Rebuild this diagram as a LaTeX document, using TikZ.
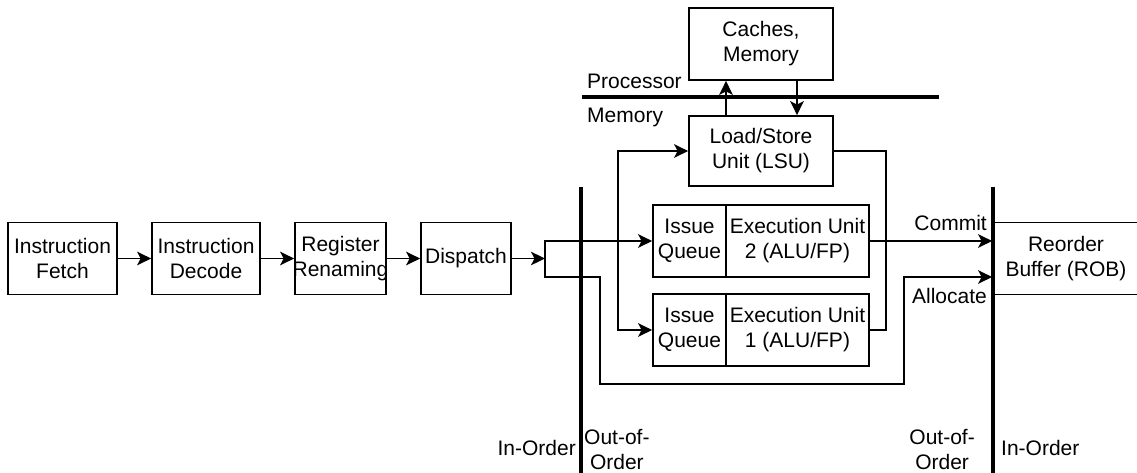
\documentclass[tikz,border=0pt]{standalone}
\usepackage{fontspec}
\setmainfont{Liberation Sans}
\usetikzlibrary{arrows.meta}
\tikzset{box/.style={draw, line width=1.7pt, inner sep=0pt, align=center, minimum height=72pt},
  arr/.style={->, line width=1.7pt},
  bar/.style={line width=3.5pt},
  lbl/.style={inner sep=0pt, align=center}}

\begin{document}
\begin{tikzpicture}[x=1pt, y=-1pt, font=\fontsize{21}{25}\selectfont, line join=miter,
    >={Stealth[length=14pt,width=13.5pt,inset=3.5pt]}]
    \useasboundingbox (0,0) rectangle (1137,472);
    \node [box, minimum width=109pt] (fetch) at (62.5,258.5) {Instruction\\Fetch};
    \node [box, minimum width=108pt] (decode) at (206,258.5) {Instruction\\Decode};
    \node [box, minimum width=91pt] (rename) at (340.5,258.5) {};
    \node [lbl] at (rename) {Register\\Renaming};
    \node [box, minimum width=90pt] (dispatch) at (466,258.5) {Dispatch};
    \node [box, minimum width=144pt] (mem) at (761,44) {Caches,\\Memory};
    \node [box, minimum width=144pt, minimum height=70pt] (lsu) at (761,151) {Load/Store\\Unit (LSU)};
    \node [box, minimum width=73pt] (iq2) at (689.5,241) {Issue\\Queue};
    \node [box, minimum width=143pt] (eu2) at (797.5,241) {Execution Unit\\2 (ALU/FP)};
    \node [box, minimum width=73pt] (iq1) at (689.5,330) {Issue\\Queue};
    \node [box, minimum width=143pt] (eu1) at (797.5,330) {Execution Unit\\1 (ALU/FP)};
    \node [box, minimum width=146pt] (rob) at (1066,258.5) {Reorder\\Buffer (ROB)};

    \draw [bar] (582,97) -- (939,97);
    \node [lbl, anchor=west] (proc) at (587,81) {Processor};
    \node [lbl, anchor=west] (memlbl) at (587,117) {Memory};
    \draw [bar] (581,187) -- (581,475);
    \draw [bar] (993,187) -- (993,475);
    \node [lbl, anchor=east] (inl) at (576,448) {In-Order};
    \node [lbl, anchor=west] (oool) at (584,449.5) {Out-of-\\Order};
    \node [lbl, anchor=east] (ooor) at (975,449.5) {Out-of-\\Order};
    \node [lbl, anchor=west] (inr) at (1001,448) {In-Order};
    \node [lbl, anchor=east] (commit) at (987,223) {Commit};
    \node [lbl, anchor=east] (allocate) at (987,296) {Allocate};

    \coordinate (split) at (545,258.5);
    \coordinate (down) at (600,384);
    \coordinate (up) at (904,384);
    \coordinate (alloc) at ([yshift=-18.5pt]rob.west);
    \coordinate (loopl) at (618,330);
    \coordinate (loopr) at (886,330);

    \draw [arr] (fetch) -- (decode);
    \draw [arr] (decode) -- (rename);
    \draw [arr] (rename) -- (dispatch);
    \draw [arr] (dispatch) -- (split);
    \draw [arr] (split) |- (iq2);
    \draw [arr] (split) |- (down |- alloc) -- (down) -- (up) |- (alloc);
    \draw [arr] (eu2) -- (eu2 -| rob.west);
    \draw [arr, <->] (lsu.west) -| (loopl) -- (iq1.west);
    \draw [line width=1.7pt] (lsu.east) -| (loopr) -- (eu1.east);
    \draw [arr] ([xshift=-35pt]lsu.north) -- ([xshift=-35pt]mem.south);
    \draw [arr] ([xshift=36pt]mem.south) -- ([xshift=36pt]lsu.north);
\end{tikzpicture}
\end{document}
